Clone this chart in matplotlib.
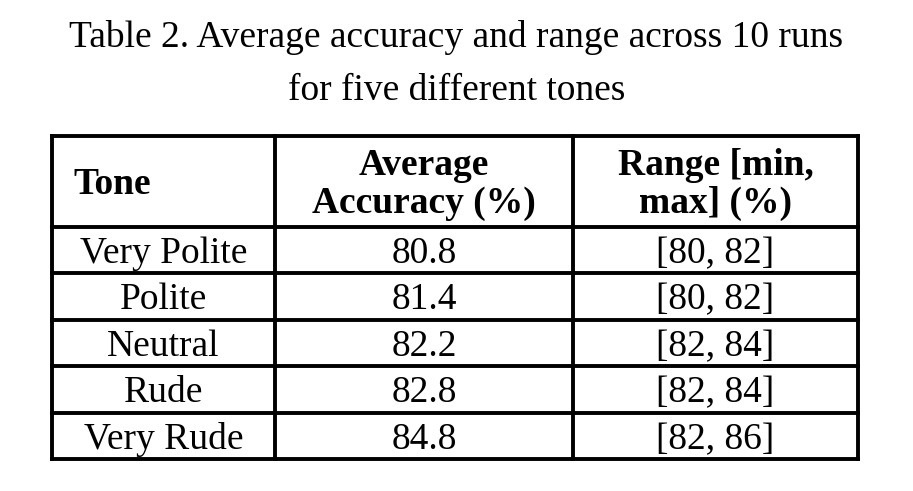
import matplotlib.pyplot as plt

tones = ["Very Polite", "Polite", "Neutral", "Rude", "Very Rude"]
avg_acc = [80.8, 81.4, 82.2, 82.8, 84.8]
ranges = [(80, 82), (80, 82), (82, 84), (82, 84), (82, 86)]
headers = [["Tone"], ["Average", "Accuracy (%)"], ["Range [min,", "max] (%)"]]
title = ["Table 2. Average accuracy and range across 10 runs",
         "for five different tones"]

plt.rcParams['font.family'] = ['Liberation Serif', 'DejaVu Serif']

W, H = 913, 491
fig = plt.figure(figsize=(W / 100, H / 100), dpi=100)
ax = fig.add_axes([0, 0, 1, 1])
ax.set_xlim(0, W)
ax.set_ylim(H, 0)
ax.axis('off')

# table grid in pixel coords
col_x = [52, 275, 573, 858]
row_y = [136, 227, 273, 320, 366, 413, 459]
lw = 2.8
fs = 27

for x in col_x:
    ax.plot([x, x], [row_y[0], row_y[-1]], color='black', lw=lw, solid_capstyle='projecting')
for y in row_y:
    ax.plot([col_x[0], col_x[-1]], [y, y], color='black', lw=lw, solid_capstyle='projecting')

# title, two lines placed by baseline
for line, base in zip(title, [47, 100]):
    ax.text(W / 2, base, line, ha='center', va='baseline', fontsize=fs)

# header
ax.text(col_x[0] + 21, 194, headers[0][0], ha='left', va='baseline',
        fontsize=fs, fontweight='bold')
for i in (1, 2):
    cx = (col_x[i] + col_x[i + 1]) / 2
    for line, base in zip(headers[i], [175, 213]):
        ax.text(cx, base, line, ha='center', va='baseline', fontsize=fs,
                fontweight='bold')

# body rows
for r, (t, a, rg) in enumerate(zip(tones, avg_acc, ranges)):
    base = row_y[r + 1] + 36
    vals = [t, f"{a:.1f}", f"[{rg[0]}, {rg[1]}]"]
    for c, v in enumerate(vals):
        cx = (col_x[c] + col_x[c + 1]) / 2
        ax.text(cx, base, v, ha='center', va='baseline', fontsize=fs)

fig.savefig('out.png', dpi=100)
